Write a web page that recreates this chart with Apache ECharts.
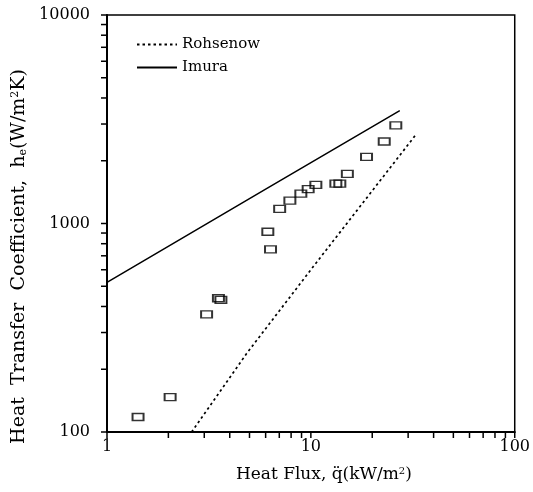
<!DOCTYPE html>
<html><head><meta charset="utf-8">
<script src="https://cdn.jsdelivr.net/npm/echarts@6/dist/echarts.min.js"></script>
<style>html,body{margin:0;padding:0;background:#fff}#c{width:533px;height:492px}</style>
</head><body><div id="c"></div>
<script>
const xTickLabels = [1, 10, 100];
const yTickLabels = [100, 1000, 10000];
const xTickValues = [1,2,3,4,5,6,7,8,9,10,20,30,40,50,60,70,80,90,100];
const yTickValues = [100,200,300,400,500,600,700,800,900,1000,2000,3000,4000,5000,6000,7000,8000,9000,10000];
const experimentQ = [1.42, 2.04, 3.08, 3.52, 3.62, 6.15, 6.34, 7.03, 7.89, 8.93, 9.70, 10.58, 13.26, 13.87, 15.1, 18.75, 22.9, 26.1];
const experimentH = [118, 147, 367, 438, 430, 913, 751, 1174, 1288, 1391, 1460, 1531, 1554, 1554, 1730, 2089, 2473, 2952];
const rohsenowQ = [2.6, 4.84, 10.26, 32.7];
const rohsenowH = [100, 238, 620, 2663];
const imuraQ = [1, 6.06, 27.3];
const imuraH = [522, 1470, 3475];

const serif = 'DejaVu Serif';
const pairs = (a, b) => a.map((v, i) => [v, b[i]]);
const tickData = xTickValues.map(v => ['x', v]).concat(yTickValues.map(v => ['y', v]));

const chart = echarts.init(document.getElementById('c'));
chart.setOption({
  animation: false,
  backgroundColor: '#fff',
  grid: { left: 107, right: 18, top: 15, bottom: 60, show: true, borderColor: '#000', borderWidth: 1.5 },
  legend: {
    data: ['Rohsenow', 'Imura'], orient: 'vertical', left: 131, top: 32,
    itemWidth: 40, itemHeight: 12, itemGap: 8,
    itemStyle: { opacity: 0 },
    textStyle: { fontFamily: serif, fontSize: 15, color: '#000' }
  },
  xAxis: {
    type: 'log', logBase: 10, min: 1, max: 100,
    name: 'Heat Flux, q\u0308(kW/m{sup|2})', nameLocation: 'middle', nameGap: 34,
    nameTextStyle: { fontFamily: serif, fontSize: 17, color: '#000', padding: [0, 0, 0, 26],
      rich: { sup: { fontFamily: serif, fontSize: 10, verticalAlign: 'top', padding: [0,0,8,0] } } },
    axisLine: { lineStyle: { color: '#000', width: 2 } },
    axisTick: { show: false },
    axisLabel: { fontFamily: serif, fontSize: 16, color: '#000', margin: 7, customValues: xTickLabels, formatter: v => String(v) },
    splitLine: { show: false }
  },
  yAxis: {
    type: 'log', logBase: 10, min: 100, max: 10000,
    name: 'Heat  Transfer  Coefficient,  h{sub|e}(W/m{sup|2}K)', nameLocation: 'middle', nameGap: 73,
    nameTextStyle: { fontFamily: serif, fontSize: 19, color: '#000', padding: [0, 66, 0, 0],
      rich: { sup: { fontFamily: serif, fontSize: 11, verticalAlign: 'top', padding: [0,0,8,0] },
              sub: { fontFamily: serif, fontSize: 11, verticalAlign: 'bottom', padding: [6,0,0,0] } } },
    axisLine: { lineStyle: { color: '#000', width: 2 } },
    axisTick: { show: false },
    axisLabel: { fontFamily: serif, fontSize: 16, color: '#000', margin: 17, customValues: yTickLabels, formatter: v => String(v) },
    splitLine: { show: false }
  },
  series: [
    { name: 'Rohsenow', type: 'line', data: pairs(rohsenowQ, rohsenowH), symbol: 'none',
      lineStyle: { color: '#000', width: 1.7, type: [2.5, 3] }, itemStyle: { color: '#000' } },
    { name: 'Imura', type: 'line', data: pairs(imuraQ, imuraH), symbol: 'none',
      lineStyle: { color: '#000', width: 1.5 }, itemStyle: { color: '#000' } },
    { name: 'Experiment', type: 'scatter', data: pairs(experimentQ, experimentH), symbol: 'rect', symbolSize: [11, 7],
      itemStyle: { color: 'rgba(255,255,255,0)', borderColor: '#000', borderWidth: 1.6 } },
    { name: 'ticks', type: 'custom', clip: false, silent: true, data: tickData,
      encode: { x: -1, y: -1 },
      renderItem: function (params, api) {
        const axis = api.value(0);
        const v = api.value(1);
        let p, shape;
        if (axis === 'x') {
          p = api.coord([v, 100]);
          shape = { x1: p[0], y1: p[1], x2: p[0], y2: p[1] + 6 };
        } else {
          p = api.coord([1, v]);
          shape = { x1: p[0], y1: p[1], x2: p[0] - 6, y2: p[1] };
        }
        return { type: 'line', shape: shape, style: { stroke: '#000', lineWidth: 1.5 } };
      } }
  ]
});
</script></body></html>
